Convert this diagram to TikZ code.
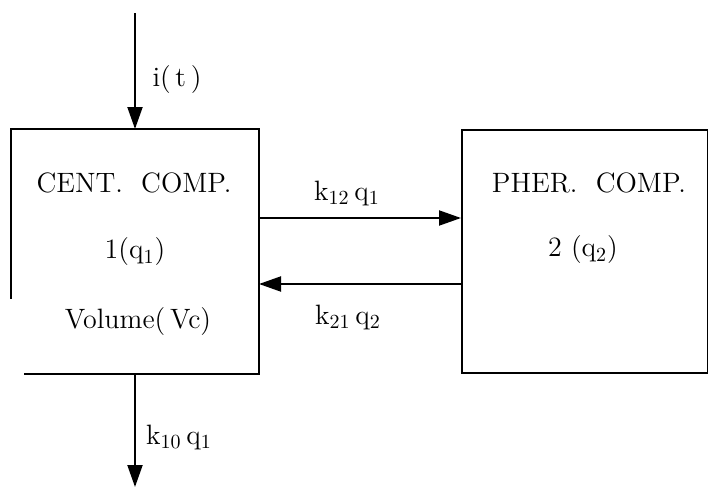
\documentclass[tikz,border=0pt]{standalone}
\usetikzlibrary{arrows.meta,positioning}
\begin{document}
\begin{tikzpicture}[
    x=0.5pt, y=-0.5pt,
    node distance=101pt,
    every node/.style={font=\fontsize{14}{16}\selectfont},
    comp/.style={rectangle, minimum width=123pt, minimum height=121.5pt, inner sep=0pt, line width=1pt},
    flow/.style={line width=1pt, -{Triangle[length=11pt, width=7.5pt]}},
    rate/.style={inner sep=1pt}
]
    \useasboundingbox (0,0) rectangle (708,487);

    % --- compartments ---
    \node[comp] (cent) at (135,251.5) {};
    \node[comp, draw, right=of cent] (pher) {};
    % left box is open at its lower left corner
    \draw[line width=1pt] ([xshift=6.5pt]cent.south west) -- (cent.south east)
        -- (cent.north east) -- (cent.north west) -- ([yshift=37.5pt]cent.south west);

    \node (centname) at (134,183) {CENT.\ \ COMP.};
    \node (centq)    at (135,252) {1(q$_1$)};
    \node (centvol)  at (138,322) {Volume(\,Vc)};
    \node (phername) at (589,183) {PHER.\ \ COMP.};
    \node (pherq)    at (583,250) {2 (q$_2$)};

    % --- flows ---
    \coordinate (src)  at (135,13);
    \coordinate (sink) at (135,487);
    \draw[flow] (src) -- (cent.north);
    \node[rate] (input) at (177,80) {i(\,t\,)};
    \draw[flow] (cent.south) -- (sink);
    \node[rate] (elim) at (179,437) {k$_{10}$\,q$_1$};

    \draw[flow] ([yshift=16.75pt]cent.east) -- ([yshift=16.75pt]pher.west)
        node[rate, midway, yshift=12.5pt, xshift=-6.5pt] (ka) {k$_{12}$\,q$_1$};
    \draw[flow] ([yshift=-16.25pt]pher.west) -- ([yshift=-16.25pt]cent.east)
        node[rate, midway, yshift=-16.5pt, xshift=-6pt] (kb) {k$_{21}$\,q$_2$};
\end{tikzpicture}
\end{document}
